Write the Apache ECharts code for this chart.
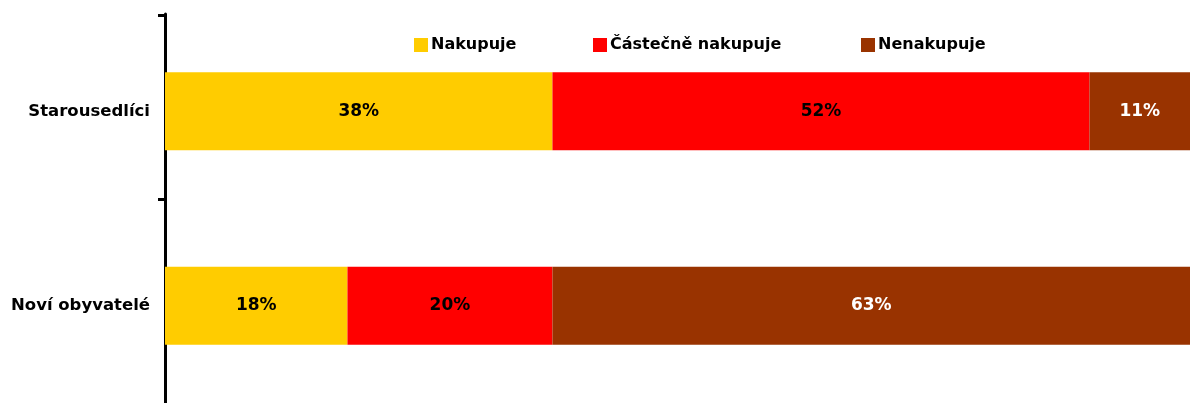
<!DOCTYPE html>
<html>
<head>
<meta charset="utf-8">
<script src="https://cdn.jsdelivr.net/npm/echarts@6/dist/echarts.min.js"></script>
<style>
  html, body { margin: 0; padding: 0; background: #fff; }
  #main { width: 1190px; height: 403px; }
</style>
</head>
<body>
<div id="main"></div>
<script>
// skupiny respondentů (shora dolů)
const groups = ['Starousedlíci', 'Noví obyvatelé']
// podíly odečtené z délky pruhů (%)
const nakupuje = [37.8, 17.8]
const castecne = [52.4, 20.0]
const nenakupuje = [9.8, 62.2]
// popisky jak jsou v grafu
const nakupujeLbl = ['38%', '18%']
const castecneLbl = ['52%', '20%']
const nenakupujeLbl = ['11%', '63%']

const names = ['Nakupuje', 'Částečně nakupuje', 'Nenakupuje']
const colors = ['#FFCC00', '#FF0000', '#993300']

const font = 'DejaVu Sans, Verdana, sans-serif'

function makeSeries (i, values, labels, textColor) {
  return {
    name: names[i],
    type: 'bar',
    stack: 'all',
    barWidth: '40%',
    data: values,
    itemStyle: { color: colors[i] },
    label: {
      show: true,
      position: 'inside',
      formatter: p => labels[p.dataIndex],
      color: textColor,
      fontFamily: font,
      fontWeight: 'bold',
      fontSize: 17
    }
  }
}

// jedna legenda na položku, rozestupy jako v originále
const legendLeft = [414, 593, 861]
const legends = names.map((n, i) => ({
  left: legendLeft[i],
  top: 37,
  padding: 0,
  itemWidth: 14,
  itemHeight: 14,
  icon: 'rect',
  textStyle: { fontFamily: font, fontWeight: 'bold', fontSize: 16, color: '#000', padding: [0, 0, 0, -2] },
  data: [n]
}))

let myChart = echarts.init(document.getElementById('main'))
myChart.setOption({
  animation: false,
  legend: legends,
  grid: [
    { left: 165, right: 0, top: 14, height: 392 },
    // jen pro značky osy
    { left: 165, right: 0, top: 15, height: 184 }
  ],
  xAxis: [
    { type: 'value', min: 0, max: 100, show: false, gridIndex: 0 },
    { type: 'value', min: 0, max: 100, show: false, gridIndex: 1 }
  ],
  yAxis: [
    {
      type: 'category',
      gridIndex: 0,
      data: groups,
      inverse: true,
      axisLine: { lineStyle: { color: '#000', width: 3 } },
      axisTick: { show: false },
      axisLabel: { color: '#000', fontFamily: font, fontWeight: 'bold', fontSize: 16.5, margin: 15 }
    },
    {
      type: 'category',
      gridIndex: 1,
      data: groups,
      boundaryGap: false,
      axisLine: { show: false },
      axisTick: { show: true, length: 7, lineStyle: { color: '#000', width: 3 } },
      axisLabel: { show: false }
    }
  ],
  series: [
    makeSeries(0, nakupuje, nakupujeLbl, '#000'),
    makeSeries(1, castecne, castecneLbl, '#000'),
    makeSeries(2, nenakupuje, nenakupujeLbl, '#fff')
  ]
})
</script>
</body>
</html>
